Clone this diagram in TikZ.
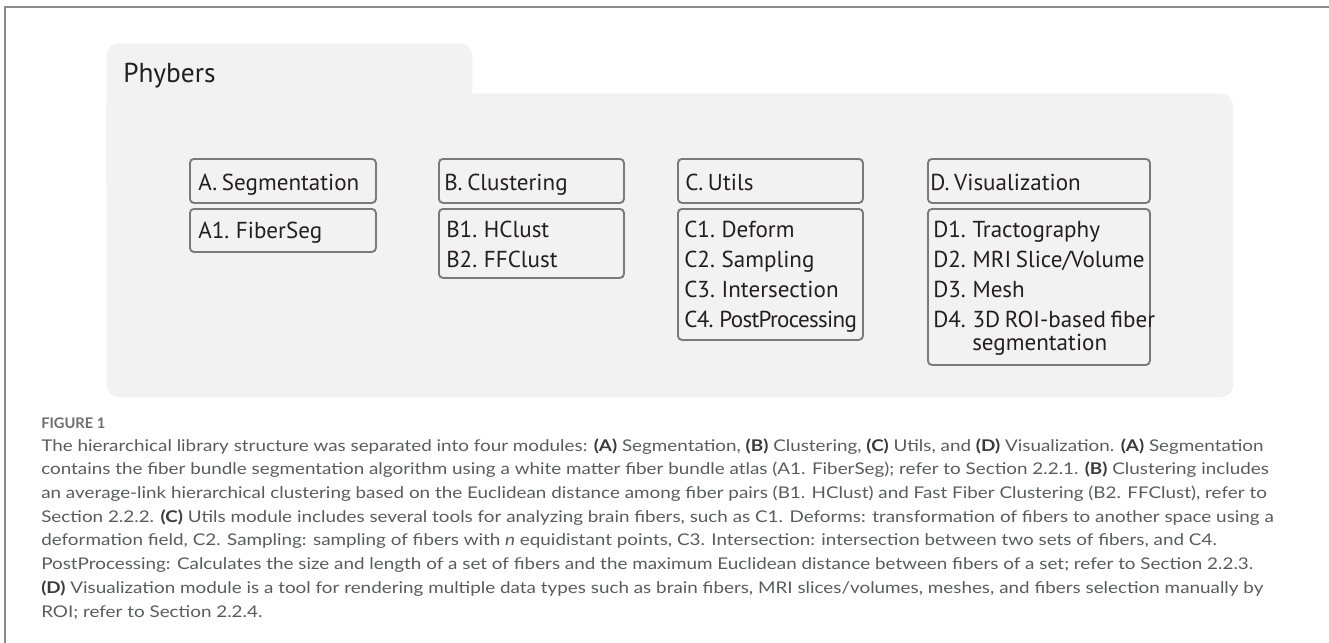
\documentclass[tikz,border=0pt]{standalone}
\usepackage{fontspec}
\setmainfont{PT Sans}[WordSpace=0.75]
\newfontfamily\tightfont{PT Sans}[WordSpace=0.75,LetterSpace=-3]
\newfontfamily\capfont{Lato}[FakeStretch=1.168]
\newfontfamily\figfont{Lato}
\definecolor{panelgray}{HTML}{F2F2F2}
\definecolor{boxline}{HTML}{7A7A7A}
\definecolor{framegray}{HTML}{8C8C8C}
\definecolor{captext}{HTML}{5A5B5D}
\definecolor{capbold}{HTML}{3A3A3C}
\definecolor{figlabel}{HTML}{6D6E71}
\definecolor{ink}{HTML}{231F20}
\newcommand\capb[1]{{\color{capbold}\bfseries #1}}
\begin{document}
\begin{tikzpicture}[x=0.75pt,y=-0.75pt,
  panelpart/.style={fill=panelgray,draw=none,rounded corners=9.75pt,inner sep=0pt,anchor=north west},
  headbox/.style={draw=boxline,line width=1.4pt,fill=panelgray,rounded corners=3pt,inner sep=0pt,anchor=north west,minimum height={44*0.75pt}},
  subbox/.style={draw=boxline,line width=1.4pt,fill=panelgray,rounded corners=3pt,inner sep=0pt,anchor=north west},
  boxtext/.style={font=\fontsize{17.3}{20}\selectfont,text=ink,inner sep=0pt,anchor=base west},
  titletext/.style={font=\fontsize{20.5}{24}\selectfont,text=ink,inner sep=0pt,anchor=base west},
  captiontext/.style={font=\capfont\fontsize{12.1}{14}\selectfont,text=captext,inner sep=0pt,anchor=base west},
  figtext/.style={font=\figfont\bfseries\fontsize{11}{13}\selectfont,text=figlabel,inner sep=0pt,anchor=base west},
  frameline/.style={draw=framegray,line width=1.2pt}
]
\useasboundingbox (0,0) rectangle (1329,643);
% frame lines
\coordinate (fc) at (5,7);
\coordinate (fr) at (1329,7);
\coordinate (fb) at (5,643);
\draw[frameline] (fr) -- (fc) -- (fb);
% panel
\node[panelpart,minimum width={366*0.75pt},minimum height={150*0.75pt}] (tab) at (106,43) {};
\node[panelpart,minimum width={1127*0.75pt},minimum height={304*0.75pt}] (panel) at (106,93) {};
\node[titletext] (title) at (123,82) {Phybers};
% header boxes
\node[headbox,minimum width={186*0.75pt}] (A) at (189,158) {};
\node[headbox,minimum width={185*0.75pt}] (B) at (438,158) {};
\node[headbox,minimum width={185*0.75pt}] (C) at (677,158) {};
\node[headbox,minimum width={222*0.75pt}] (D) at (927,158) {};
\node[boxtext] (At) at (198,190) {A. Segmentation};
\node[boxtext] (Bt) at (444,190) {B. Clustering};
\node[boxtext] (Ct) at (685,190) {C. Utils};
\node[boxtext] (Dt) at (930,190) {D. Visualization};
% sub boxes
\node[subbox,minimum width={186*0.75pt},minimum height={43*0.75pt}] (A1) at (189,208) {};
\node[subbox,minimum width={185*0.75pt},minimum height={69*0.75pt}] (B1) at (438,208) {};
\node[subbox,minimum width={185*0.75pt},minimum height={131*0.75pt}] (C1) at (677,208) {};
\node[subbox,minimum width={222*0.75pt},minimum height={156*0.75pt}] (D1) at (927,208) {};
\node[boxtext] (A1t) at (198,238) {A1. FiberSeg};
\node[boxtext] (B1t) at (446,237) {B1. HClust};
\node[boxtext] (B2t) at (446,267) {B2. FFClust};
\node[boxtext] (C1t) at (684,237) {C1. Deform};
\node[boxtext] (C2t) at (684,267) {C2. Sampling};
\node[boxtext] (C3t) at (684,297) {C3. Intersection};
\node[boxtext] (C4t) at (684,327) {\tightfont C4. PostProcessing};
\node[boxtext] (D1t) at (933,237) {D1. Tractography};
\node[boxtext] (D2t) at (933,267) {D2. MRI Slice/Volume};
\node[boxtext] (D3t) at (933,297) {D3. Mesh};
\node[boxtext] (D4t) at (933,327) {D4. 3D ROI-based fiber};
\node[boxtext] (D4u) at (972,350) {segmentation};
% caption
\node[figtext] (fig) at (41,428) {FIGURE 1};
\node[captiontext] (cap1) at (41,451) {The hierarchical library structure was separated into four modules: \capb{(A)} Segmentation, \capb{(B)} Clustering, \capb{(C)} Utils, and \capb{(D)} Visualization. \capb{(A)} Segmentation};
\node[captiontext] (cap2) at (41,474.7) {contains the fiber bundle segmentation algorithm using a white matter fiber bundle atlas (A1. FiberSeg); refer to Section 2.2.1. \capb{(B)} Clustering includes};
\node[captiontext] (cap3) at (41,498.4) {an average-link hierarchical clustering based on the Euclidean distance among fiber pairs (B1. HClust) and Fast Fiber Clustering (B2. FFClust), refer to};
\node[captiontext] (cap4) at (41,522) {Section 2.2.2. \capb{(C)} Utils module includes several tools for analyzing brain fibers, such as C1. Deforms: transformation of fibers to another space using a};
\node[captiontext] (cap5) at (41,545.8) {deformation field, C2. Sampling: sampling of fibers with \textit{n} equidistant points, C3. Intersection: intersection between two sets of fibers, and C4.};
\node[captiontext] (cap6) at (41,569.5) {PostProcessing: Calculates the size and length of a set of fibers and the maximum Euclidean distance between fibers of a set; refer to Section 2.2.3.};
\node[captiontext] (cap7) at (41,593) {\capb{(D)} Visualization module is a tool for rendering multiple data types such as brain fibers, MRI slices/volumes, meshes, and fibers selection manually by};
\node[captiontext] (cap8) at (41,617) {ROI; refer to Section 2.2.4.};
\end{tikzpicture}
\end{document}
